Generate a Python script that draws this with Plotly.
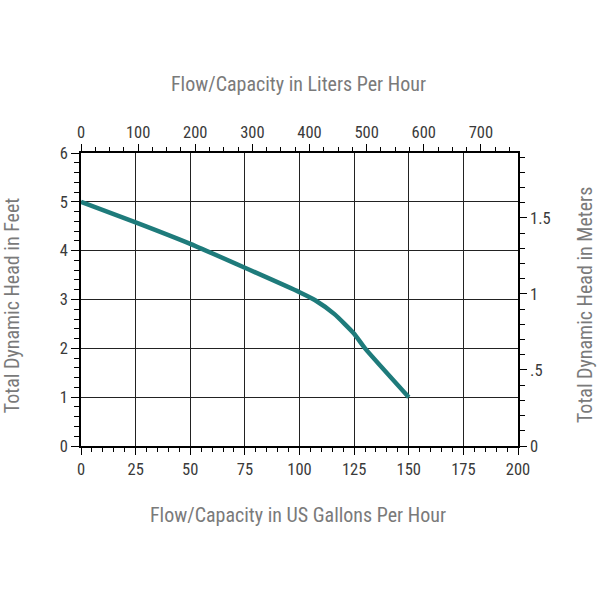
import plotly.graph_objects as go

# Data
gph = [0, 25, 50, 75, 100, 107, 116, 125, 130, 150]
head_ft = [5.0, 4.58, 4.14, 3.65, 3.15, 2.99, 2.70, 2.30, 2.00, 1.0]

bottom_ticks = [0, 25, 50, 75, 100, 125, 150, 175, 200]
top_ticks = [0, 100, 200, 300, 400, 500, 600, 700]
left_ticks = [0, 1, 2, 3, 4, 5, 6]
right_tickvals = [0, 0.5, 1, 1.5]
right_ticktext = ["0", ".5", "1", "1.5"]

FONT = "Liberation Sans Narrow, Roboto Condensed, Arial Narrow, Roboto, sans-serif"
TICKC = "#3a3a3a"
TITLEC = "#7a7a7a"

fig = go.Figure()
fig.add_trace(go.Scatter(
    x=gph, y=head_ft, mode="lines",
    line=dict(color="#1e7b7b", width=4.5, shape="spline", smoothing=0.5),
    hoverinfo="skip", showlegend=False))
# invisible trace on secondary axes so they render
fig.add_trace(go.Scatter(x=[0], y=[0], xaxis="x2", yaxis="y2", mode="markers",
                         marker=dict(opacity=0), showlegend=False, hoverinfo="skip"))

axis_common = dict(showline=True, linecolor="black", linewidth=1.5,
                   ticks="outside", tickcolor="black", tickwidth=1.2,
                   tickfont=dict(family=FONT, size=16.5, color=TICKC),
                   zeroline=False)

fig.update_layout(
    width=600, height=600,
    margin=dict(l=81, r=82, t=153, b=154),
    paper_bgcolor="white", plot_bgcolor="white",
    font=dict(family=FONT),
    xaxis=dict(range=[0, 200], tickvals=bottom_ticks, ticklen=7,
               showgrid=True, gridcolor="#222222", gridwidth=1,
               minor=dict(dtick=5, ticks="outside", ticklen=4, tickcolor="black", showgrid=False),
               mirror=True, **axis_common),
    xaxis2=dict(range=[0, 765], overlaying="x", side="top", anchor="y",
                tickvals=top_ticks, ticklen=7, showgrid=False,
                minor=dict(dtick=25, ticks="outside", ticklen=4, tickcolor="black", showgrid=False),
                **axis_common),
    yaxis=dict(range=[0, 6], tickvals=left_ticks, ticklen=8,
               showgrid=True, gridcolor="#222222", gridwidth=1,
               minor=dict(dtick=0.2, ticks="outside", ticklen=5, tickcolor="black", showgrid=False),
               mirror=True, **axis_common),
    yaxis2=dict(range=[0, 1.927], overlaying="y", side="right", anchor="x",
                tickvals=right_tickvals, ticktext=right_ticktext, ticklen=7, showgrid=False,
                minor=dict(dtick=0.1, ticks="outside", ticklen=5, tickcolor="black", showgrid=False),
                **axis_common),
)

title_font = dict(family=FONT, size=20, color=TITLEC)
fig.add_annotation(text="Flow/Capacity in Liters Per Hour", xref="paper", yref="paper",
                   x=0.497, y=1.2355, xanchor="center", yanchor="middle",
                   showarrow=False, font=title_font)
fig.add_annotation(text="Flow/Capacity in US Gallons Per Hour", xref="paper", yref="paper",
                   x=0.497, y=-0.2355, xanchor="center", yanchor="middle",
                   showarrow=False, font=title_font)
fig.add_annotation(text="Total Dynamic Head in Feet", xref="paper", yref="paper",
                   x=-0.156, y=0.48, xanchor="center", yanchor="middle",
                   textangle=-90, showarrow=False, font=title_font)
fig.add_annotation(text="Total Dynamic Head in Meters", xref="paper", yref="paper",
                   x=1.155, y=0.48, xanchor="center", yanchor="middle",
                   textangle=-90, showarrow=False, font=title_font)

fig.write_html("out.html")
